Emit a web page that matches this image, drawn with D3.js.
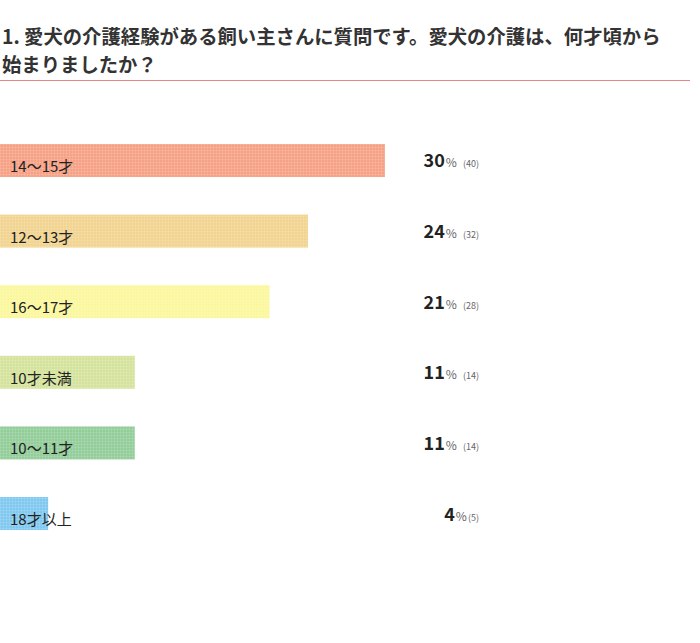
<!DOCTYPE html>
<html>
<head>
<meta charset="utf-8">
<script src="https://cdn.jsdelivr.net/npm/d3@7"></script>
<style>
  html, body { margin: 0; padding: 0; background: #fff; }
  svg { display: block; font-family: "Noto Sans CJK JP", "Noto Sans", sans-serif; }
</style>
</head>
<body>
<svg id="chart"></svg>
<script>
// 回答データ
const categories = ["14〜15才", "12〜13才", "16〜17才", "10才未満", "10〜11才", "18才以上"];
const percents = [30, 24, 21, 11, 11, 4];
const counts = [40, 32, 28, 14, 14, 5];
const barColors = ["#f6a085", "#f1d48f", "#fbf79d", "#d4e39c", "#92cd9a", "#80c8ef"];
const titleLines = [
  "1. 愛犬の介護経験がある飼い主さんに質問です。愛犬の介護は、何才頃から",
  "始まりましたか？"
];

const width = 700, height = 643;
const svg = d3.select("#chart").attr("width", width).attr("height", height);

// タイトル
svg.selectAll("text.title")
  .data(titleLines)
  .enter()
  .append("text")
  .attr("class", "title")
  .attr("x", 2)
  .attr("y", (d, i) => 44 + i * 28)
  .attr("fill", "#333")
  .style("font-size", "19.35px")
  .style("font-weight", "700")
  .text(d => d);

svg.append("line")
  .attr("x1", 0).attr("x2", 690)
  .attr("y1", 80.5).attr("y2", 80.5)
  .attr("stroke", "#ea8585")
  .attr("stroke-width", 1);

// 目盛り
const x = d3.scaleLinear().domain([0, d3.max(counts)]).range([0, 385]);
const y = d3.scaleBand().domain(categories).range([144, 530]).paddingInner(0.533).paddingOuter(0);

// 網目模様
const defs = svg.append("defs");
const pat = defs.append("pattern")
  .attr("id", "grid")
  .attr("width", 3).attr("height", 3)
  .attr("patternUnits", "userSpaceOnUse");
pat.append("path")
  .attr("d", "M0,0.5H3M0.5,0V3")
  .attr("stroke", "#fff")
  .attr("stroke-opacity", 0.12)
  .attr("stroke-width", 1);

const rows = svg.selectAll("g.row")
  .data(categories)
  .enter()
  .append("g")
  .attr("class", "row");

rows.append("rect")
  .attr("x", 0)
  .attr("y", d => y(d))
  .attr("width", (d, i) => x(counts[i]))
  .attr("height", y.bandwidth())
  .attr("fill", (d, i) => barColors[i]);

rows.append("rect")
  .attr("x", 0)
  .attr("y", d => y(d))
  .attr("width", (d, i) => x(counts[i]))
  .attr("height", y.bandwidth())
  .attr("fill", "url(#grid)");

rows.append("text")
  .attr("x", 10)
  .attr("y", d => y(d) + y.bandwidth() - 5)
  .attr("fill", "#222")
  .style("font-size", "15px")
  .text(d => d);

// 割合ラベル
const val = rows.append("text")
  .attr("x", 479)
  .attr("y", d => y(d) + y.bandwidth() / 2 + 7)
  .attr("text-anchor", "end");

val.append("tspan")
  .attr("fill", "#222")
  .style("font-size", "18px")
  .style("font-weight", "700")
  .text((d, i) => percents[i]);
val.append("tspan")
  .attr("fill", "#666")
  .attr("dx", 1)
  .style("font-size", "12px")
  .text("%");
val.append("tspan")
  .attr("fill", "#666")
  .attr("dx", (d, i) => counts[i] >= 10 ? 6 : 1)
  .style("font-size", "9px")
  .text((d, i) => "(" + counts[i] + ")");
</script>
</body>
</html>
